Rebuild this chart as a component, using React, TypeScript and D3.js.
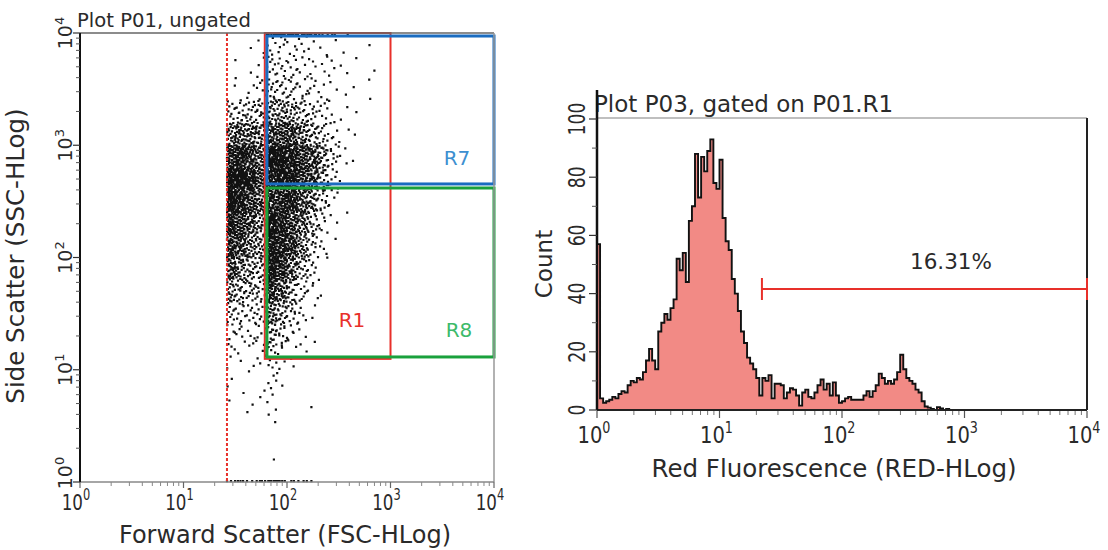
import React from 'react';
import * as d3 from 'd3';

const W = 1108;
const H = 550;

// ---------- Plot P01 (FSC vs SSC dot plot) ----------
const decades = [0, 1, 2, 3, 4];
const minorMultipliers = [2, 3, 4, 5, 6, 7, 8, 9];
// column edges (log10 FSC) and row edges (log10 SSC, top -> bottom) of the density grid
const fscEdges = [1.42, 1.5, 1.6, 1.7, 1.8, 1.9, 2.0, 2.1, 2.2, 2.3, 2.4, 2.5, 2.6, 2.7, 2.8, 2.9];
const sscEdges = [4.0, 3.8, 3.6, 3.4, 3.2, 3.0, 2.8, 2.6, 2.4, 2.2, 2.0, 1.8, 1.6, 1.4, 1.2, 1.0, 0.8, 0.6, 0.4, 0.2, 0.0];
// events per grid cell (rows top -> bottom, columns left -> right)
const eventDensity = [
  [0, 0, 1, 2, 6, 5, 5, 4, 3, 2, 1, 1, 0, 1, 0],
  [0, 1, 1, 3, 8, 8, 7, 5, 4, 3, 3, 2, 1, 0, 1],
  [1, 2, 3, 6, 12, 11, 9, 7, 5, 4, 2, 1, 1, 1, 1],
  [8, 14, 14, 16, 24, 24, 20, 15, 10, 6, 3, 2, 1, 0, 0],
  [24, 34, 32, 28, 44, 48, 42, 32, 20, 12, 5, 2, 1, 0, 0],
  [50, 58, 48, 38, 62, 72, 66, 56, 44, 26, 9, 3, 1, 0, 0],
  [66, 75, 58, 42, 60, 70, 68, 56, 40, 20, 6, 1, 0, 0, 0],
  [58, 66, 48, 34, 60, 64, 54, 40, 26, 12, 4, 1, 0, 0, 0],
  [48, 54, 38, 26, 68, 62, 48, 32, 16, 7, 2, 0, 0, 0, 0],
  [42, 42, 28, 22, 78, 68, 46, 26, 12, 4, 1, 0, 0, 0, 0],
  [34, 28, 18, 18, 72, 56, 32, 16, 7, 2, 0, 0, 0, 0, 0],
  [18, 18, 14, 14, 52, 36, 20, 9, 4, 1, 0, 0, 0, 0, 0],
  [10, 10, 8, 10, 32, 20, 11, 5, 2, 0, 0, 0, 0, 0, 0],
  [6, 5, 5, 6, 20, 11, 6, 3, 1, 0, 0, 0, 0, 0, 0],
  [3, 2, 1, 4, 9, 4, 2, 1, 0, 0, 0, 0, 0, 0, 0],
  [2, 0, 1, 1, 4, 2, 0, 0, 0, 0, 0, 0, 0, 0, 0],
  [1, 1, 2, 1, 3, 0, 0, 0, 1, 0, 0, 0, 0, 0, 0],
  [0, 0, 0, 0, 2, 0, 0, 0, 0, 0, 0, 0, 0, 0, 0],
  [0, 0, 0, 0, 1, 0, 0, 0, 0, 0, 0, 0, 0, 0, 0],
  [0, 0, 0, 0, 0, 0, 0, 0, 0, 0, 0, 0, 0, 0, 0],
];
// off-scale events piled on the axes (per column)
const floorEvents = [3, 3, 2, 4, 6, 5, 2, 3, 1, 0, 0, 0, 0, 0, 0];
const ceilingEvents = [0, 0, 0, 0, 6, 6, 6, 5, 4, 3, 2, 1, 0, 0, 0];

const thresholdFSC = 26.3;
const gateR1 = { x0: 61, x1: 1000, y0: 12.5, y1: 10000 };
const gateR7 = { x0: 64, x1: 10000, y0: 452, y1: 9400 };
const gateR8 = { x0: 64, x1: 10000, y0: 13, y1: 416 };

// ---------- Plot P03 (histogram) ----------
const histBinDecades = 0.025;
const histCounts = [
  57, 4, 2.5, 3, 3.5, 4.5, 4, 5.5, 6.5, 6,
  8.5, 10, 9.5, 11, 10.5, 13, 17, 21, 17, 14,
  27, 30, 33, 31, 35, 38, 52, 48, 54, 44,
  65, 70, 88, 73, 87, 82, 89, 93, 78, 76,
  86, 66, 58, 55, 45, 40, 34, 27, 23, 18,
  16, 14, 11, 5, 11, 10, 12, 4, 9, 9,
  8.5, 4, 6, 7.5, 7, 5, 1.5, 6, 7, 4.5,
  4, 6, 8.5, 10.5, 7, 9, 5, 9.5, 5, 2.5,
  3, 4, 4.5, 3.5, 3.5, 3.5, 3.5, 5, 6.5, 4.5,
  6.5, 8.5, 12.5, 11, 9, 10, 9, 10.5, 13, 19,
  14, 11, 10, 9, 7, 6, 3, 1.2, 0.8, 0.4,
  0, 1, 0.5, 0, 0.4, 0,
];
const countTicks = [0, 20, 40, 60, 80, 100];
const countMinorTicks = [10, 30, 50, 70, 90];
const markerRange = [22.2, 10000];
const markerLabel = '16.31%';

const FONT = 'DejaVu Sans, Verdana, sans-serif';
const TXT = '#2a2a2a';

function halton(i: number, b: number) {
  let f = 1;
  let r = 0;
  let n = i;
  while (n > 0) {
    f /= b;
    r += f * (n % b);
    n = Math.floor(n / b);
  }
  return r;
}

function Pow10({ n, size, expSize, dy }: { n: number; size: number; expSize: number; dy: number }) {
  return (
    <>
      <tspan fontSize={size}>10</tspan>
      <tspan fontSize={expSize} dy={dy}>{n}</tspan>
    </>
  );
}

export default function App() {
  const xL = d3.scaleLog().domain([1, 1e4]).range([80, 494]);
  const yL = d3.scaleLog().domain([1, 1e4]).range([482, 33]);
  const xR = d3.scaleLog().domain([1, 1e4]).range([597, 1087]);
  const yR = d3.scaleLinear().domain([0, 100]).range([410, 119]);

  // dots
  let idx = 1;
  let dotPath = '';
  const addDot = (lx: number, ly: number) => {
    const px = xL(Math.pow(10, lx));
    const py = yL(Math.pow(10, ly));
    dotPath += `M${(px - 1.1).toFixed(1)},${(py - 1.1).toFixed(1)}h2.2v2.2h-2.2z`;
  };
  eventDensity.forEach((row, r) => {
    row.forEach((n, c) => {
      for (let k = 0; k < n; k++) {
        const u = halton(idx, 2);
        const v = halton(idx, 3);
        idx++;
        const lx = fscEdges[c] + u * (fscEdges[c + 1] - fscEdges[c]);
        const ly = sscEdges[r + 1] + v * (sscEdges[r] - sscEdges[r + 1]);
        addDot(lx, ly);
      }
    });
  });
  floorEvents.forEach((n, c) => {
    for (let k = 0; k < n; k++) {
      const u = halton(idx++, 2);
      addDot(fscEdges[c] + u * (fscEdges[c + 1] - fscEdges[c]), 0.008);
    }
  });
  ceilingEvents.forEach((n, c) => {
    for (let k = 0; k < n; k++) {
      const u = halton(idx++, 2);
      addDot(fscEdges[c] + u * (fscEdges[c + 1] - fscEdges[c]), 3.99);
    }
  });

  // histogram
  const histData = histCounts.map((c, i) => ({ x: Math.pow(10, i * histBinDecades), c }));
  histData.push({ x: Math.pow(10, histCounts.length * histBinDecades), c: 0 });
  histData.push({ x: 1e4, c: 0 });
  const area = d3
    .area<{ x: number; c: number }>()
    .x((d) => xR(d.x))
    .y0(yR(0))
    .y1((d) => yR(d.c))
    .curve(d3.curveStepAfter);
  const line = d3
    .line<{ x: number; c: number }>()
    .x((d) => xR(d.x))
    .y((d) => yR(d.c))
    .curve(d3.curveStepAfter);

  const minorLog = decades.slice(0, -1).flatMap((d) => minorMultipliers.map((m) => m * Math.pow(10, d)));

  const rect = (g: { x0: number; x1: number; y0: number; y1: number }) => ({
    x: xL(g.x0),
    y: yL(g.y1),
    width: xL(g.x1) - xL(g.x0),
    height: yL(g.y0) - yL(g.y1),
  });
  const r1 = rect(gateR1);
  const r7 = rect(gateR7);
  const r8 = rect(gateR8);

  const markerY = 289;

  return (
    <svg width={W} height={H} style={{ position: 'absolute', left: 0, top: 0, background: '#fff' }} fontFamily={FONT}>
      <rect width={W} height={H} fill="#fff" />

      {/* ===== Left plot ===== */}
      <text x={77} y={27} fontSize={19.6} fill={TXT}>Plot P01, ungated</text>

      <path d={dotPath} fill="#111" />

      <line x1={xL(thresholdFSC)} x2={xL(thresholdFSC)} y1={yL(1e4)} y2={yL(1)} stroke="#e8302a" strokeWidth={2} strokeDasharray="3,2" />

      <rect {...r1} fill="none" stroke="#e8302a" strokeWidth={2} />
      <rect {...r8} fill="none" stroke="#1aa13c" strokeWidth={3} />
      <rect {...r7} fill="none" stroke="#1a6cc0" strokeWidth={3} />
      <text x={457} y={165} fontSize={20} fill="#3d8fd0" textAnchor="middle">R7</text>
      <text x={352} y={327} fontSize={20} fill="#e8302a" textAnchor="middle">R1</text>
      <text x={459} y={337} fontSize={20} fill="#3dba6a" textAnchor="middle">R8</text>

      <line x1={80} x2={494} y1={33} y2={33} stroke="#666" strokeWidth={1.5} />
      <line x1={494} x2={494} y1={33} y2={482} stroke="#999" strokeWidth={1.5} />
      <line x1={80} x2={494} y1={482} y2={482} stroke="#888" strokeWidth={1.5} />
      <line x1={80} x2={80} y1={33} y2={482} stroke="#111" strokeWidth={2} />

      {minorLog.map((v) => (
        <line key={'lxm' + v} x1={xL(v)} x2={xL(v)} y1={482} y2={486} stroke="#888" strokeWidth={1} />
      ))}
      {decades.map((d) => (
        <line key={'lxM' + d} x1={xL(Math.pow(10, d))} x2={xL(Math.pow(10, d))} y1={482} y2={488} stroke="#666" strokeWidth={1.2} />
      ))}
      {decades.map((d) => (
        <text key={'lxt' + d} transform={`translate(${xL(Math.pow(10, d)) - 4},510) scale(0.76,1)`} textAnchor="middle" fill={TXT}>
          <Pow10 n={d} size={22} expSize={15} dy={-10} />
        </text>
      ))}
      {minorLog.map((v) => (
        <line key={'lym' + v} x1={76} x2={80} y1={yL(v)} y2={yL(v)} stroke="#555" strokeWidth={1} />
      ))}
      {decades.map((d) => (
        <line key={'lyM' + d} x1={73} x2={80} y1={yL(Math.pow(10, d))} y2={yL(Math.pow(10, d))} stroke="#333" strokeWidth={1.2} />
      ))}
      {decades.map((d) => (
        <text key={'lyt' + d} transform={`translate(72,${yL(Math.pow(10, d)) - (d === 0 ? 9 : 0)}) rotate(-90)`} textAnchor="middle" fill={TXT}>
          <Pow10 n={d} size={19} expSize={13} dy={-8} />
        </text>
      ))}
      <text x={285} y={543} fontSize={24} textAnchor="middle" fill={TXT}>Forward Scatter (FSC-HLog)</text>
      <text transform="translate(24,256) rotate(-90)" fontSize={24.5} textAnchor="middle" fill={TXT}>Side Scatter (SSC-HLog)</text>

      {/* ===== Right plot ===== */}
      <text x={594} y={112} fontSize={23} fill={TXT}>Plot P03, gated on P01.R1</text>

      <path d={area(histData) || ''} fill="#f28a85" />
      <path d={line(histData) || ''} fill="none" stroke="#111" strokeWidth={1.9} />

      <line x1={597} x2={1087} y1={118} y2={118} stroke="#aaa" strokeWidth={1.5} />
      <line x1={1087} x2={1087} y1={118} y2={410} stroke="#222" strokeWidth={2} />
      <line x1={597} x2={1087} y1={410} y2={410} stroke="#222" strokeWidth={2} />
      <line x1={597} x2={597} y1={90} y2={410} stroke="#111" strokeWidth={2.5} />

      <line x1={xR(markerRange[0])} x2={xR(markerRange[1])} y1={markerY} y2={markerY} stroke="#e8302a" strokeWidth={2} />
      <line x1={xR(markerRange[0])} x2={xR(markerRange[0])} y1={markerY - 11} y2={markerY + 11} stroke="#e8302a" strokeWidth={2} />
      <line x1={xR(markerRange[1])} x2={xR(markerRange[1])} y1={markerY - 11} y2={markerY + 11} stroke="#e8302a" strokeWidth={2} />
      <text x={951} y={269} fontSize={21.5} textAnchor="middle" fill={TXT}>{markerLabel}</text>

      {minorLog.map((v) => (
        <line key={'rxm' + v} x1={xR(v)} x2={xR(v)} y1={411} y2={415} stroke="#777" strokeWidth={1} />
      ))}
      {decades.map((d) => (
        <line key={'rxM' + d} x1={xR(Math.pow(10, d))} x2={xR(Math.pow(10, d))} y1={411} y2={418} stroke="#555" strokeWidth={1.2} />
      ))}
      {decades.map((d) => (
        <text key={'rxt' + d} transform={`translate(${xR(Math.pow(10, d)) - 3},443) scale(0.85,1)`} textAnchor="middle" fill={TXT}>
          <Pow10 n={d} size={23} expSize={15} dy={-10} />
        </text>
      ))}
      {countMinorTicks.map((v) => (
        <line key={'rym' + v} x1={592} x2={597} y1={yR(v)} y2={yR(v)} stroke="#555" strokeWidth={1} />
      ))}
      {countTicks.map((v) => (
        <line key={'ryM' + v} x1={589} x2={597} y1={yR(v)} y2={yR(v)} stroke="#333" strokeWidth={1.2} />
      ))}
      {countTicks.map((v) => (
        <text key={'ryt' + v} transform={`translate(585,${yR(v)}) rotate(-90) scale(0.75,1)`} fontSize={23} textAnchor="middle" fill={TXT}>
          {v}
        </text>
      ))}
      <text x={834} y={477} fontSize={24.5} textAnchor="middle" fill={TXT}>Red Fluorescence (RED-HLog)</text>
      <text transform="translate(552,264) rotate(-90)" fontSize={23} textAnchor="middle" fill={TXT}>Count</text>
    </svg>
  );
}
